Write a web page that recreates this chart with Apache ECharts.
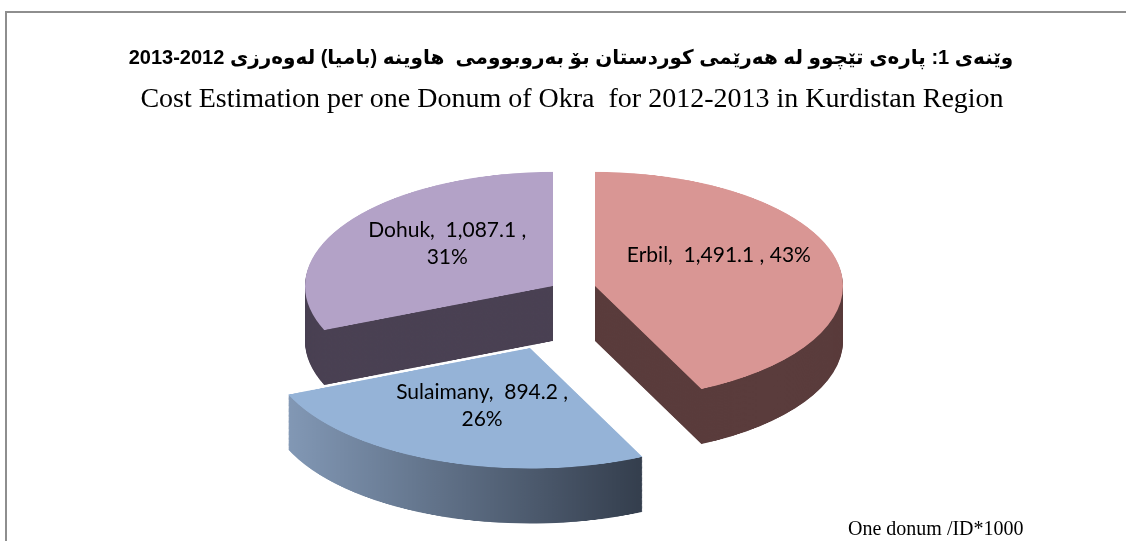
<!DOCTYPE html>
<html>
<head>
<meta charset="utf-8">
<script src="https://cdn.jsdelivr.net/npm/echarts@6/dist/echarts.min.js"></script>
<style>
html, body { margin: 0; padding: 0; width: 1126px; height: 541px; overflow: hidden; background: #fff; }
#frame { position: absolute; left: 5px; top: 11px; width: 1300px; height: 700px; border-left: 2px solid #8e8e8e; border-top: 2px solid #8e8e8e; }
/* the pie is drawn round and squashed to look tilted */
#pie { position: absolute; left: 0; top: 0; width: 1126px; height: 1200px; transform: scaleY(0.46); transform-origin: 0 0; }
#main { position: absolute; left: 0; top: 0; width: 1126px; height: 541px; }
</style>
</head>
<body>
<div id="frame"></div>
<div id="pie"></div>
<div id="main"></div>
<script>
const regions = ["Erbil", "Sulaimany", "Dohuk"]
const costs = [1491.1, 894.2, 1087.1]
const titleKu = "وێنەی 1: پارەی تێچوو لە هەرێمی کوردستان بۆ بەروبوومی  هاوینە (بامیا) لەوەرزی 2012-2013"
const titleEn = "Cost Estimation per one Donum of Okra  for 2012-2013 in Kurdistan Region"
const unitNote = "One donum /ID*1000"

const SQUASH = 0.46
const DEPTH = 55
const LAYERS = 55
const topColor = ["#d99694", "#95b3d7", "#b3a2c7"]
const sideColor = [
	"#5a3c3c",
	new echarts.graphic.LinearGradient(0, 0, 1, 0, [
		{ offset: 0, color: "#8298b5" },
		{ offset: 1, color: "#343e4d" }
	]),
	"#4a4153"
]
// screen position of each exploded slice's tip, and its radius (front one looks bigger)
const apex = [[595, 286], [530, 348], [553, 286]]
const sliceRadius = [248, 262, 248]
const labelWrap = [false, true, true]
const labelLift = [18, 0, 10]

function fmt(v) {
	return v.toLocaleString("en-US", { minimumFractionDigits: 1, maximumFractionDigits: 1 })
}

function sliceData(i, color, showLabel) {
	return costs.map((v, j) => ({
		name: regions[j],
		value: v,
		itemStyle: { color: j === i ? color : "rgba(0,0,0,0)" },
		label: { show: showLabel && j === i }
	}))
}

const basePie = {
	type: "pie",
	startAngle: 90,
	clockwise: true,
	silent: true,
	avoidLabelOverlap: false,
	emphasis: { disabled: true },
	label: { show: false },
	labelLine: { show: false },
	itemStyle: { borderWidth: 0 }
}

// side walls: copies of every slice stepped downward, then the top faces
let pieSeries = []
for (let i = 0; i < costs.length; i++) {
	for (let k = LAYERS; k >= 1; k--) {
		const dy = (DEPTH * k) / LAYERS
		pieSeries.push(Object.assign({}, basePie, {
			z: 1,
			radius: sliceRadius[i],
			center: [apex[i][0], (apex[i][1] + dy) / SQUASH],
			data: sliceData(i, sideColor[i], false)
		}))
	}
}
for (let i = 0; i < costs.length; i++) {
	pieSeries.push(Object.assign({}, basePie, {
		z: 2,
		radius: sliceRadius[i],
		center: [apex[i][0], apex[i][1] / SQUASH],
		data: sliceData(i, topColor[i], false)
	}))
}

const pieChart = echarts.init(document.getElementById("pie"))
pieChart.setOption({ animation: false, series: pieSeries })

// labels sit on an unsquashed layer, moved onto the tilted face
let labelSeries = []
for (let i = 0; i < costs.length; i++) {
	labelSeries.push(Object.assign({}, basePie, {
		radius: sliceRadius[i],
		center: apex[i],
		data: sliceData(i, "rgba(0,0,0,0)", true),
		label: {
			show: true,
			position: "inside",
			color: "#000",
			fontFamily: "Lato",
			fontSize: 21,
			lineHeight: 27,
			formatter: (p) => p.name + ",  " + fmt(p.value) + " ," + (labelWrap[p.dataIndex] ? "\n" : " ") + Math.round(p.percent) + "%"
		},
		labelLayout: (p) => {
			const r = p.labelRect
			const cy = r.y + r.height / 2
			return { x: r.x + r.width / 2, y: apex[i][1] + (cy - apex[i][1]) * SQUASH - labelLift[i] }
		}
	}))
}

const chart = echarts.init(document.getElementById("main"))
chart.setOption({
	animation: false,
	title: [
		{
			text: titleKu,
			left: 571,
			top: 48,
			textAlign: "center",
			padding: 0,
			textStyle: { fontFamily: "'Liberation Sans', 'DejaVu Sans'", fontWeight: "bold", fontSize: 20, color: "#000" }
		},
		{
			text: titleEn,
			left: 572,
			top: 86,
			textAlign: "center",
			padding: 0,
			textStyle: { fontFamily: "'Liberation Serif'", fontWeight: "normal", fontSize: 28, color: "#000" }
		},
		{
			text: unitNote,
			left: 848,
			top: 520,
			padding: 0,
			textStyle: { fontFamily: "'Liberation Serif'", fontWeight: "normal", fontSize: 20, color: "#000" }
		}
	],
	series: labelSeries
})
</script>
</body>
</html>
